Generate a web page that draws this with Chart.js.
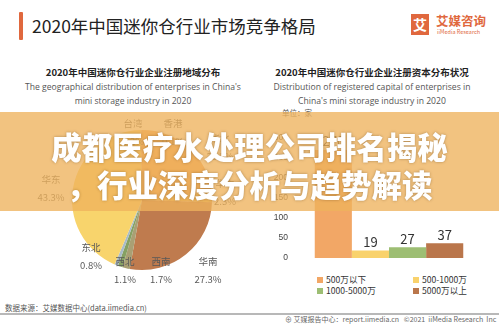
<!DOCTYPE html>
<html>
<head>
<meta charset="utf-8">
<script src="https://cdn.jsdelivr.net/npm/chart.js@4.4.1/dist/chart.umd.min.js"></script>
<style>
  body { margin:0; width:499px; height:324px; overflow:hidden; background:#fff; position:relative;
         font-family:"Noto Sans CJK SC","Noto Sans",sans-serif; color:#333; }
  .abs { position:absolute; white-space:nowrap; }
  #pieBox { position:absolute; left:0; top:100px; width:250px; height:200px; }
  #barBox { position:absolute; left:260px; top:120px; width:228px; height:150px; }
  .sub { text-align:center; width:250px; }
  .sub b { display:block; font-size:9.5px; line-height:16px; color:#222; }
  .sub span { display:block; font-size:8.6px; line-height:14px; color:#555; font-family:"Open Sans","Noto Sans",sans-serif; }
  .leg { font-size:8.6px; color:#333; line-height:10px; }
  .leg i { display:inline-block; width:6px; height:6px; margin-right:3px; vertical-align:0px; }
  #banner { position:absolute; left:0; top:112px; width:499px; height:99px; background:rgba(238,178,92,0.78); }
  #bannerText { position:absolute; left:0; top:127px; width:499px; text-align:center; color:#fff;
                font-size:30.5px; font-weight:900; line-height:38px; text-shadow:0 0 3px rgba(90,60,20,0.45); }
</style>
</head>
<body>
<div class="abs" style="left:19px;top:12px;width:4px;height:28px;background:#E0683E;border-radius:1px"></div>
<div class="abs" style="left:32px;top:13px;font-size:17.5px;line-height:26px;color:#222">2020年中国迷你仓行业市场竞争格局</div>

<div class="abs" style="left:411px;top:14px;width:18px;height:21px;background:#E0683E;color:#fff;font-size:14px;font-weight:bold;line-height:21px;text-align:center">艾</div>
<div class="abs" style="left:436px;top:13px;font-size:12.5px;line-height:16px;color:#E0683E;font-weight:bold">艾媒咨询</div>
<div class="abs" style="left:437px;top:29px;font-size:5.5px;line-height:7px;color:#E0683E">iiMedia Research</div>

<div class="abs sub" style="left:8px;top:64px">
  <b>2020年中国迷你仓行业企业注册地域分布</b>
  <span>The geographical distribution of enterprises in China's</span>
  <span>mini storage industry in 2020</span>
</div>
<div class="abs sub" style="left:247px;top:64px">
  <b>2020年中国迷你仓行业企业注册资本分布状况</b>
  <span>Distribution of registered capital of enterprises in</span>
  <span>China's mini storage industry in 2020</span>
</div>
<div class="abs" style="left:282px;top:108px;font-size:7.5px;line-height:10px;color:#555">单位：家</div>

<div id="pieBox"><canvas id="pie"></canvas></div>
<div id="barBox"><canvas id="bar"></canvas></div>
<div id="legend"></div>

<div class="abs" style="left:0;top:313px;width:499px;height:2px;background:#b8b8b8"></div>
<div class="abs" style="left:5px;top:303px;font-size:7.5px;line-height:10px;color:#555">数据来源：艾媒数据中心(data.iimedia.cn)</div>
<div class="abs" style="left:285px;top:314px;font-size:7px;line-height:10px;color:#666">⊕ 艾媒报告中心：report.iimedia.cn &nbsp; ©2021 &nbsp;iiMedia Research &nbsp;Inc</div>

<div id="banner"></div>
<div id="bannerText">成都医疗水处理公司排名揭秘<br>，行业深度分析与趋势解读</div>

<script>
// pie: share of registered enterprises by region (%), clockwise from top
var regions = ['华北', '华中', '华南', '西南', '西北', '东北', '华东', '台湾', '香港'];
var shares = [23.2, 2.3, 27.3, 1.7, 1.1, 0.8, 43.3, 0.2, 0.1];
var regionColors = ['#EFA35E', '#E9B85A', '#BF7B4E', '#A9A074', '#86A163', '#A9BCC9', '#F8D46C', '#E58A50', '#D9A070'];
// where each region label sits, relative to the pie centre (px)
var labelSpots = [[78, -53], [83, -8], [66, 70], [19, 70], [-17, 70], [-51, 56], [-91, -12], [-9, -68], [31, -68]];

// bars: enterprises by registered capital (家)
var capitalBands = ['500万以下', '500-1000万', '1000-5000万', '5000万以上'];
var capitalCounts = [270, 19, 27, 37];
var bandColors = ['#F2A766', '#F9D26C', '#9DBE73', '#BA764B'];
var yTicks = [0, 50, 100, 150, 200, 250, 300];

var pieLabels = {
  id: 'pieLabels',
  afterDraw: function(chart) {
    var c = chart.ctx, arcs = chart.getDatasetMeta(0).data;
    c.save();
    c.font = '9.5px "Noto Sans CJK SC", sans-serif';
    c.fillStyle = '#595959';
    c.textAlign = 'center';
    c.textBaseline = 'middle';
    arcs.forEach(function(a, i) {
      var x = a.x + labelSpots[i][0], y = a.y + labelSpots[i][1];
      c.fillText(regions[i], x, y - 9);
      c.fillText(shares[i].toFixed(1) + '%', x, y + 9);
    });
    c.restore();
  }
};

new Chart(document.getElementById('pie'), {
  type: 'pie',
  data: {
    labels: regions,
    datasets: [{ data: shares, backgroundColor: regionColors, borderWidth: 0 }]
  },
  options: {
    responsive: true, maintainAspectRatio: false, animation: false,
    layout: { padding: { left: 72, right: 38, top: 30, bottom: 30 } },
    plugins: { legend: { display: false }, tooltip: { enabled: false } }
  },
  plugins: [pieLabels]
});

var barValues = {
  id: 'barValues',
  afterDatasetsDraw: function(chart) {
    var c = chart.ctx;
    c.save();
    c.font = '13px "Noto Sans CJK SC", sans-serif';
    c.fillStyle = '#333';
    c.textAlign = 'center';
    c.textBaseline = 'bottom';
    chart.data.datasets.forEach(function(ds, i) {
      var b = chart.getDatasetMeta(i).data[0];
      c.fillText(ds.data[0], b.x, b.y - 2);
    });
    c.restore();
  }
};

new Chart(document.getElementById('bar'), {
  type: 'bar',
  data: {
    labels: [''],
    datasets: capitalBands.map(function(name, i) {
      return { label: name, data: [capitalCounts[i]], backgroundColor: bandColors[i],
               categoryPercentage: 0.75, barPercentage: 1.0 };
    })
  },
  options: {
    responsive: true, maintainAspectRatio: false, animation: false,
    layout: { padding: { top: 18, bottom: 12, right: 0, left: 0 } },
    plugins: { legend: { display: false }, tooltip: { enabled: false } },
    scales: {
      x: { display: false },
      y: {
        min: yTicks[0], max: yTicks[yTicks.length - 1],
        afterFit: function(s) { s.width = 30; },
        grid: { display: false, drawTicks: false },
        border: { display: false },
        ticks: { stepSize: yTicks[1] - yTicks[0], padding: 2, color: '#444',
                 font: { size: 8.5, family: 'Liberation Sans' } }
      }
    }
  },
  plugins: [barValues]
});

// two-column legend under the bars
var legendSpots = [[317, 274], [413, 274], [317, 285], [413, 285]];
var lg = document.getElementById('legend');
capitalBands.forEach(function(name, i) {
  var d = document.createElement('div');
  d.className = 'abs leg';
  d.style.left = legendSpots[i][0] + 'px';
  d.style.top = legendSpots[i][1] + 'px';
  d.innerHTML = '<i style="background:' + bandColors[i] + '"></i>' + name;
  lg.appendChild(d);
});
</script>
</body>
</html>
